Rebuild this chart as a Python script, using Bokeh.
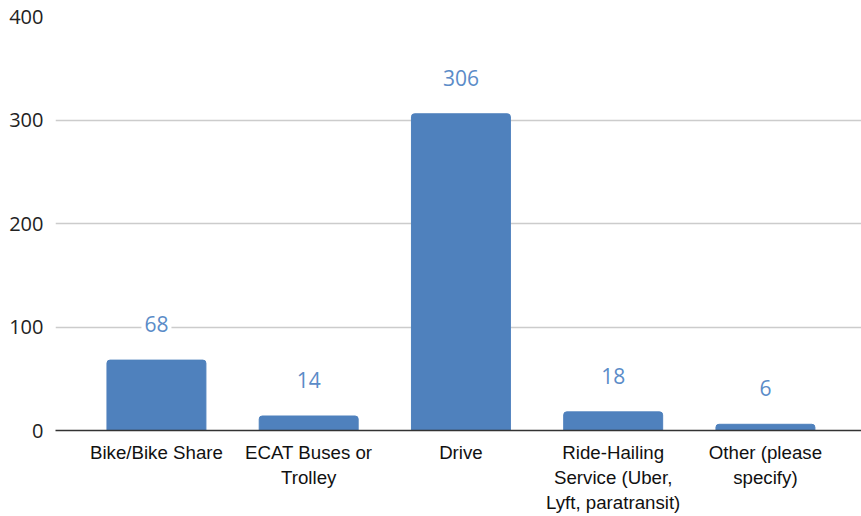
from bokeh.plotting import figure
from bokeh.models import Range1d, FixedTicker, ColumnDataSource
from bokeh.core.properties import value
from bokeh.embed import file_html
from bokeh.resources import INLINE

categories = ["Bike/Bike Share", "ECAT Buses or\nTrolley", "Drive",
              "Ride-Hailing\nService (Uber,\nLyft, paratransit)", "Other (please\nspecify)"]
counts = [68, 14, 306, 18, 6]
y_ticks = [0, 100, 200, 300, 400]

idx = list(range(len(categories)))
src = ColumnDataSource(dict(x=idx, top=counts, label=[str(c) for c in counts]))

p = figure(width=861, height=516, output_backend="svg", toolbar_location=None,
           x_range=Range1d(-0.663, 4.631), y_range=Range1d(0, 400),
           min_border_left=55, min_border_right=0, min_border_top=16, min_border_bottom=86)
p.outline_line_color = None
p.title.visible = False

p.vbar(x="x", top="top", width=0.65, source=src, color="#4f81bd",
       border_radius=(3, 3, 0, 0))
p.text(x="x", y="top", text="label", source=src, y_offset=-36,
       text_align="center", text_baseline="middle", text_color="#5b8cc8",
       text_font=value("Open Sans"), text_font_size="21px",
       background_fill_color="white", padding=3)

p.xaxis.ticker = FixedTicker(ticks=idx)
p.xaxis.major_label_overrides = {i: c for i, c in zip(idx, categories)}
p.xaxis.major_tick_line_color = None
p.xaxis.minor_tick_line_color = None
p.xaxis.major_tick_out = 0
p.xaxis.major_tick_in = 0
p.xaxis.axis_line_color = "#333333"
p.xaxis.axis_line_width = 1.5
p.xaxis.major_label_text_font = "Liberation Sans"
p.xaxis.major_label_text_font_size = "18.7px"
p.xaxis.major_label_text_color = "#111111"
p.xaxis.major_label_standoff = 11
p.xgrid.grid_line_color = None

p.yaxis.ticker = FixedTicker(ticks=y_ticks)
p.yaxis.axis_line_color = None
p.yaxis.major_tick_line_color = None
p.yaxis.minor_tick_line_color = None
p.yaxis.major_tick_out = 0
p.yaxis.major_tick_in = 0
p.yaxis.major_label_text_font = "Open Sans"
p.yaxis.major_label_text_font_size = "20px"
p.yaxis.major_label_text_color = "#222222"
p.yaxis.major_label_standoff = 12
p.ygrid.grid_line_color = "#cccccc"
p.ygrid.grid_line_width = 1.5

open("out.html", "w").write(file_html(p, INLINE))
